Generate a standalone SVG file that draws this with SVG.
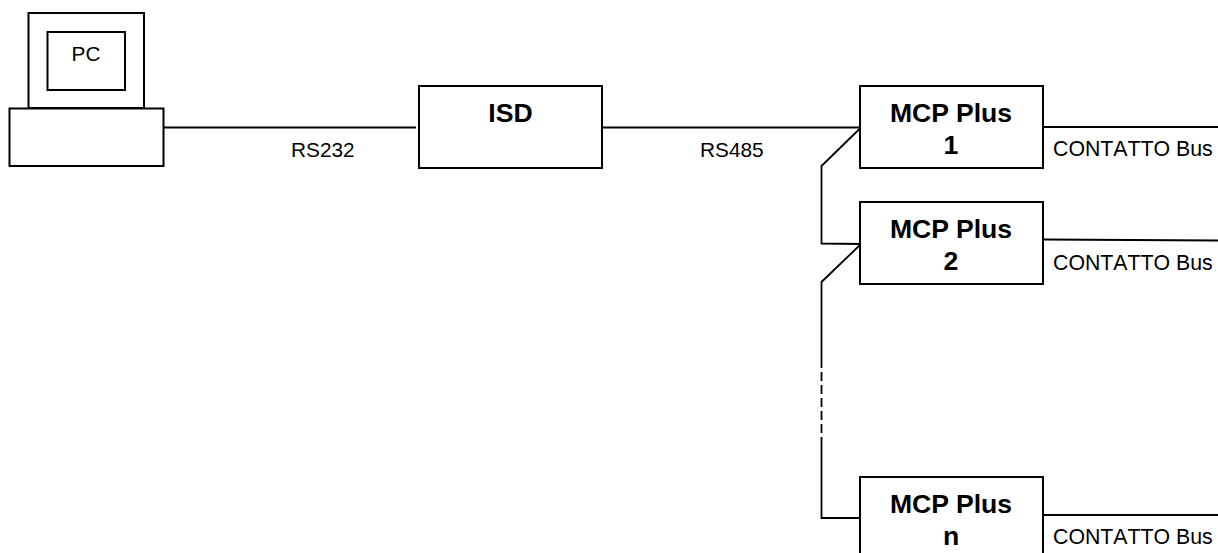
<svg xmlns="http://www.w3.org/2000/svg" width="1218" height="553" viewBox="0 0 1218 553">
<style>
.b{fill:#fff;stroke:#000;stroke-width:2}
.c{fill:none;stroke:#000;stroke-width:1.8}
text{font-family:"Liberation Sans",Arial,sans-serif;fill:#000}
.l{font-size:20.8px}
.k{font-size:21.3px;font-kerning:none}
.h{font-size:26.6px;font-weight:bold;text-anchor:middle}
</style>
<rect width="1218" height="553" fill="#fff"/>
<g id="connectors">
<path class="c" d="M163 127.500H416"/>
<path class="c" d="M602 127.500H861"/>
<path class="c" d="M861 127.500L821.500 166V243.500L861 244"/>
<path class="c" d="M861 244L821.500 282V359"/>
<path class="c" d="M821.500 359V440" stroke-dasharray="9 4"/>
<path class="c" d="M821.500 440V518H861"/>
<path class="c" d="M1043 127H1218"/>
<path class="c" d="M1043 239.500L1218 240.500"/>
<path class="c" d="M1043 515H1218"/>
</g>
<g id="pc">
<rect class="b" x="28.500" y="13" width="115.500" height="95"/>
<rect class="b" x="47.500" y="32" width="77.500" height="58"/>
<rect class="b" x="9.500" y="108.500" width="154" height="57.500"/>
<text class="l" x="86" y="61" text-anchor="middle">PC</text>
</g>
<g id="isd">
<rect class="b" x="419" y="86" width="183" height="82"/>
<text class="h" x="510.500" y="122">ISD</text>
</g>
<g id="mcp1">
<rect class="b" x="860" y="86" width="183" height="82"/>
<text class="h" x="951" y="122">MCP Plus</text>
<text class="h" x="951" y="154">1</text>
</g>
<g id="mcp2">
<rect class="b" x="860" y="202" width="183" height="82"/>
<text class="h" x="951" y="238">MCP Plus</text>
<text class="h" x="951" y="270">2</text>
</g>
<g id="mcpn">
<rect class="b" x="860" y="477" width="183" height="85"/>
<text class="h" x="951" y="513">MCP Plus</text>
<text class="h" x="951" y="545">n</text>
</g>
<g id="labels">
<text class="l" x="291" y="157">RS232</text>
<text class="l" x="700" y="157">RS485</text>
<text class="k" x="1053" y="156">CONTATTO Bus</text>
<text class="k" x="1053" y="270">CONTATTO Bus</text>
<text class="k" x="1053" y="544">CONTATTO Bus</text>
</g>
</svg>
